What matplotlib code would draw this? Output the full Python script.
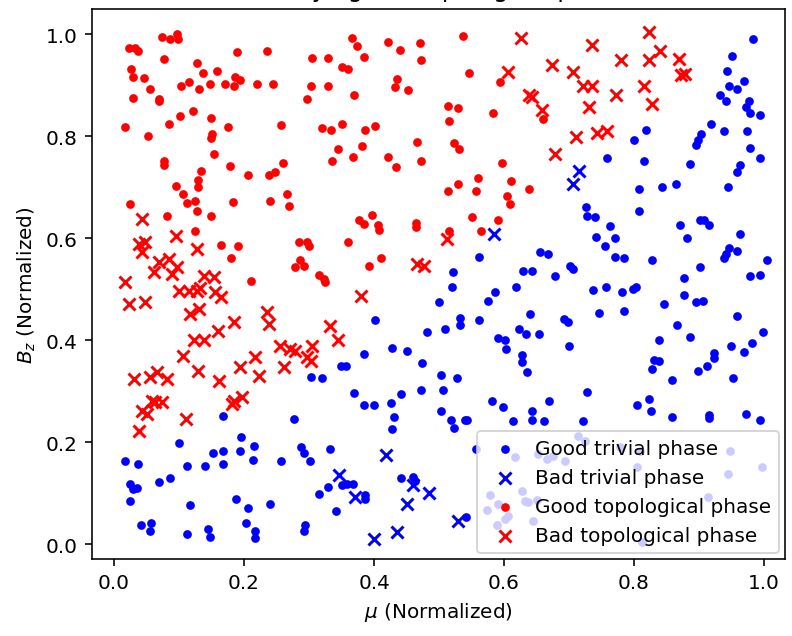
import matplotlib
matplotlib.use("Agg")
import matplotlib.pyplot as plt
import numpy as np

# good trivial phase (blue dots)
gt_mu = [0.983, 0.951, 0.943, 0.969, 0.946, 0.958, 0.932, 0.942, 0.977, 0.972, 0.978, 0.994,
         0.918, 0.938, 0.974, 0.903, 0.898, 0.895, 0.978, 0.994, 0.963, 0.958, 0.886, 0.818,
         0.800, 0.758, 0.815, 0.865, 0.843, 0.808, 0.945,
         0.726, 0.728, 0.740, 0.808, 0.763, 0.742, 0.771, 0.755, 0.771, 0.785, 0.828, 0.871,
         0.902, 0.908, 0.915, 0.882, 0.963, 0.946, 0.942, 0.938, 0.958, 1.005, 0.702, 0.706,
         0.678, 0.902, 0.877, 0.978, 0.994, 0.737, 0.757, 0.782, 0.798, 0.803, 0.877, 0.895,
         0.906, 0.846, 0.746, 0.785, 0.692, 0.698, 0.958, 0.866, 0.886, 0.838, 0.998, 0.982,
         0.969, 0.949, 0.700, 0.923, 0.923, 0.912, 0.898, 0.831, 0.838, 0.828, 0.858, 0.952,
         0.562, 0.655, 0.668, 0.629, 0.643, 0.522, 0.520, 0.618, 0.586, 0.575, 0.500, 0.640,
         0.532, 0.532, 0.562, 0.402, 0.509, 0.482, 0.623, 0.634, 0.654, 0.591, 0.602, 0.603,
         0.428, 0.451, 0.385, 0.628, 0.628, 0.474, 0.349, 0.357, 0.635, 0.503, 0.528, 0.303,
         0.320,
         0.369, 0.385, 0.400, 0.426, 0.442, 0.472, 0.506, 0.431, 0.428, 0.503, 0.518, 0.523,
         0.540, 0.543, 0.582, 0.598, 0.643, 0.643, 0.662, 0.669, 0.614, 0.332, 0.557, 0.329,
         0.351, 0.358, 0.368, 0.386, 0.386, 0.342, 0.442, 0.460, 0.463, 0.542,
         0.617, 0.652, 0.666, 0.675, 0.628, 0.632, 0.637, 0.651, 0.578, 0.591, 0.574, 0.589,
         0.602, 0.606, 0.645,
         0.714, 0.694, 0.778, 0.809, 0.805, 0.948, 0.945, 0.997, 0.914, 0.812, 0.725,
         0.728, 0.805, 0.823, 0.826, 0.858, 0.915, 0.915, 0.972, 0.994, 0.722,
         0.168, 0.277, 0.100, 0.195, 0.017, 0.037, 0.112, 0.140, 0.152, 0.168, 0.168, 0.194,
         0.215, 0.214, 0.257, 0.288, 0.292, 0.302, 0.025, 0.029, 0.035, 0.025, 0.069, 0.086,
         0.117, 0.188, 0.206, 0.240, 0.315, 0.042, 0.057, 0.055, 0.112, 0.145, 0.148, 0.203,
         0.217, 0.217, 0.294, 0.292]
gt_bz = [0.990, 0.957, 0.927, 0.908, 0.898, 0.892, 0.880, 0.869, 0.869, 0.857, 0.845, 0.841,
         0.824, 0.810, 0.810, 0.804, 0.792, 0.782, 0.776, 0.757, 0.743, 0.729, 0.745, 0.812,
         0.792, 0.757, 0.751, 0.706, 0.700, 0.696, 0.700,
         0.661, 0.643, 0.641, 0.653, 0.624, 0.602, 0.600, 0.584, 0.563, 0.561, 0.557, 0.625,
         0.635, 0.635, 0.625, 0.600, 0.608, 0.580, 0.569, 0.561, 0.575, 0.557, 0.545, 0.539,
         0.525, 0.543, 0.522, 0.525, 0.527, 0.498, 0.504, 0.494, 0.500, 0.504, 0.488, 0.475,
         0.476, 0.471, 0.453, 0.457, 0.441, 0.435, 0.447, 0.429, 0.406, 0.400, 0.416, 0.394,
         0.376, 0.388, 0.388, 0.375, 0.365, 0.349, 0.339, 0.361, 0.359, 0.343, 0.322, 0.325,
         0.563, 0.573, 0.569, 0.535, 0.535, 0.533, 0.504, 0.504, 0.494, 0.476, 0.475, 0.451,
         0.443, 0.429, 0.439, 0.439, 0.422, 0.416, 0.422, 0.412, 0.412, 0.404, 0.400, 0.382,
         0.384, 0.378, 0.373, 0.371, 0.357, 0.355, 0.349, 0.349, 0.337, 0.331, 0.325, 0.327,
         0.325,
         0.296, 0.273, 0.273, 0.276, 0.294, 0.302, 0.302, 0.249, 0.225, 0.261, 0.243, 0.227,
         0.243, 0.243, 0.280, 0.269, 0.261, 0.243, 0.241, 0.280, 0.241, 0.186, 0.186, 0.112,
         0.116, 0.118, 0.118, 0.096, 0.088, 0.065, 0.129, 0.131, 0.124, 0.053,
         0.171, 0.176, 0.167, 0.173, 0.104, 0.084, 0.082, 0.086, 0.096, 0.078, 0.067, 0.037,
         0.049, 0.055, 0.045,
         0.212, 0.163, 0.190, 0.182, 0.151, 0.182, 0.137, 0.151, 0.092, 0.004, 0.202,
         0.298, 0.273, 0.284, 0.261, 0.249, 0.253, 0.247, 0.255, 0.243, 0.241,
         0.251, 0.245, 0.198, 0.210, 0.163, 0.157, 0.153, 0.153, 0.178, 0.182, 0.157, 0.182,
         0.192, 0.165, 0.163, 0.190, 0.178, 0.163, 0.118, 0.108, 0.110, 0.084, 0.122, 0.129,
         0.076, 0.088, 0.071, 0.078, 0.098, 0.037, 0.041, 0.025, 0.020, 0.029, 0.014, 0.041,
         0.025, 0.012, 0.037, 0.025]

# bad trivial phase (blue crosses)
bt_mu = [0.585, 0.715, 0.706, 0.418, 0.346, 0.371, 0.460, 0.485, 0.451, 0.529, 0.435, 0.400]
bt_bz = [0.608, 0.731, 0.706, 0.175, 0.135, 0.092, 0.116, 0.100, 0.078, 0.045, 0.024, 0.010]

# good topological phase (red dots)
gp_mu = [0.074, 0.086, 0.097, 0.098, 0.023, 0.032, 0.037, 0.189, 0.235, 0.305, 0.077, 0.128,
         0.026, 0.029, 0.137, 0.158, 0.046, 0.186, 0.194, 0.115, 0.103, 0.131, 0.148, 0.171,
         0.185, 0.220, 0.245, 0.303, 0.055, 0.029, 0.069, 0.069, 0.297, 0.122, 0.102, 0.149,
         0.017, 0.085, 0.175, 0.257, 0.320, 0.052, 0.151, 0.149, 0.154, 0.077, 0.077, 0.178,
         0.260, 0.134, 0.206, 0.238, 0.248, 0.129, 0.129, 0.095, 0.106, 0.266, 0.125, 0.183,
         0.240,
         0.025, 0.112, 0.128, 0.082, 0.149, 0.269, 0.125, 0.165, 0.191, 0.180, 0.285, 0.297,
         0.300, 0.286, 0.278, 0.292, 0.211, 0.315, 0.323, 0.325,
         0.366, 0.374, 0.422, 0.440, 0.471, 0.472, 0.537, 0.385, 0.329, 0.351, 0.360, 0.546,
         0.594, 0.435, 0.432, 0.452, 0.329, 0.369, 0.514, 0.529, 0.515, 0.583, 0.660, 0.334,
         0.351, 0.386, 0.402, 0.466, 0.523, 0.531, 0.345, 0.382, 0.335, 0.368, 0.422, 0.434,
         0.472, 0.597, 0.560, 0.557, 0.529, 0.514, 0.611, 0.605, 0.609, 0.638,
         0.377, 0.385, 0.397, 0.406, 0.408, 0.465, 0.465, 0.515, 0.551, 0.565, 0.591, 0.360,
         0.392, 0.411]
gp_bz = [0.994, 0.990, 1.000, 0.990, 0.973, 0.973, 0.967, 0.965, 0.967, 0.953, 0.951, 0.943,
         0.931, 0.916, 0.924, 0.927, 0.914, 0.916, 0.910, 0.906, 0.898, 0.892, 0.902, 0.902,
         0.898, 0.902, 0.902, 0.898, 0.892, 0.875, 0.869, 0.873, 0.873, 0.849, 0.839, 0.835,
         0.818, 0.824, 0.818, 0.822, 0.816, 0.800, 0.804, 0.796, 0.765, 0.751, 0.743, 0.741,
         0.747, 0.731, 0.724, 0.724, 0.729, 0.714, 0.700, 0.702, 0.686, 0.686, 0.673, 0.671,
         0.673,
         0.667, 0.669, 0.653, 0.643, 0.643, 0.663, 0.614, 0.586, 0.584, 0.561, 0.592, 0.592,
         0.584, 0.557, 0.543, 0.545, 0.516, 0.527, 0.520, 0.514,
         0.992, 0.976, 0.984, 0.969, 0.982, 0.949, 0.996, 0.955, 0.953, 0.935, 0.931, 0.924,
         0.906, 0.912, 0.896, 0.890, 0.898, 0.880, 0.859, 0.855, 0.829, 0.845, 0.833, 0.812,
         0.824, 0.812, 0.820, 0.788, 0.786, 0.775, 0.775, 0.780, 0.751, 0.759, 0.759, 0.739,
         0.751, 0.747, 0.718, 0.692, 0.706, 0.692, 0.712, 0.682, 0.667, 0.696,
         0.635, 0.627, 0.645, 0.625, 0.616, 0.629, 0.622, 0.614, 0.641, 0.614, 0.635, 0.592,
         0.545, 0.561]

# bad topological phase (red crosses)
bp_mu = [0.626, 0.674, 0.606, 0.638, 0.643, 0.658, 0.678, 0.735, 0.823, 0.840, 0.780, 0.823,
         0.869, 0.878, 0.872, 0.706, 0.722, 0.735, 0.815, 0.772, 0.828, 0.731, 0.743, 0.758,
         0.711,
         0.043, 0.095, 0.038, 0.048, 0.043, 0.128, 0.069, 0.085, 0.062, 0.097, 0.089, 0.017,
         0.138, 0.154, 0.100, 0.115, 0.128, 0.132, 0.155, 0.165, 0.023, 0.048, 0.117, 0.131,
         0.185, 0.235, 0.238, 0.160, 0.123, 0.138, 0.255, 0.271, 0.278, 0.305, 0.297, 0.303,
         0.106, 0.217, 0.129, 0.194, 0.262, 0.031, 0.055, 0.066, 0.082, 0.162, 0.223,
         0.512, 0.466, 0.477, 0.380, 0.332, 0.345,
         0.043, 0.051, 0.058, 0.063, 0.074, 0.038, 0.111, 0.182, 0.185, 0.197]
bp_bz = [0.992, 0.939, 0.925, 0.880, 0.876, 0.851, 0.765, 0.978, 1.004, 0.967, 0.949, 0.949,
         0.951, 0.922, 0.920, 0.925, 0.898, 0.898, 0.898, 0.880, 0.863, 0.857, 0.806, 0.810,
         0.798,
         0.637, 0.604, 0.588, 0.592, 0.573, 0.578, 0.553, 0.559, 0.533, 0.543, 0.529, 0.514,
         0.525, 0.524, 0.496, 0.496, 0.496, 0.502, 0.494, 0.484, 0.471, 0.475, 0.451, 0.461,
         0.435, 0.455, 0.431, 0.418, 0.400, 0.400, 0.388, 0.382, 0.378, 0.388, 0.367, 0.359,
         0.369, 0.367, 0.339, 0.347, 0.347, 0.324, 0.327, 0.337, 0.324, 0.320, 0.329,
         0.598, 0.549, 0.545, 0.486, 0.427, 0.400,
         0.261, 0.255, 0.280, 0.278, 0.278, 0.222, 0.245, 0.275, 0.280, 0.288]

# reference looks like a 144 dpi render, so fonts come out ~1.44x the 100 dpi size
fig, ax = plt.subplots(figsize=(5.5, 4.4236), dpi=144)
fig.subplots_adjust(left=0.116, right=0.991, bottom=0.121, top=0.984)

ax.scatter(gt_mu, gt_bz, c='blue', marker='.', s=45, label='Good trivial phase')
ax.scatter(bt_mu, bt_bz, c='blue', marker='x', s=36, label='Bad trivial phase')
ax.scatter(gp_mu, gp_bz, c='red', marker='.', s=45, label='Good topological phase')
ax.scatter(bp_mu, bp_bz, c='red', marker='x', s=36, label='Bad topological phase')

ax.set_xlim(-0.034, 1.032)
ax.set_ylim(-0.029, 1.049)
ax.set_xlabel(r'$\mu$ (Normalized)')
ax.set_ylabel(r'$B_z$ (Normalized)')
# title sits mostly above the figure edge, as in the reference crop
ax.set_title('Classifying the topological phases', pad=6.5)
ax.legend(loc='lower right', borderaxespad=0.3, handletextpad=0.5)

fig.savefig('out.png', dpi=144)
